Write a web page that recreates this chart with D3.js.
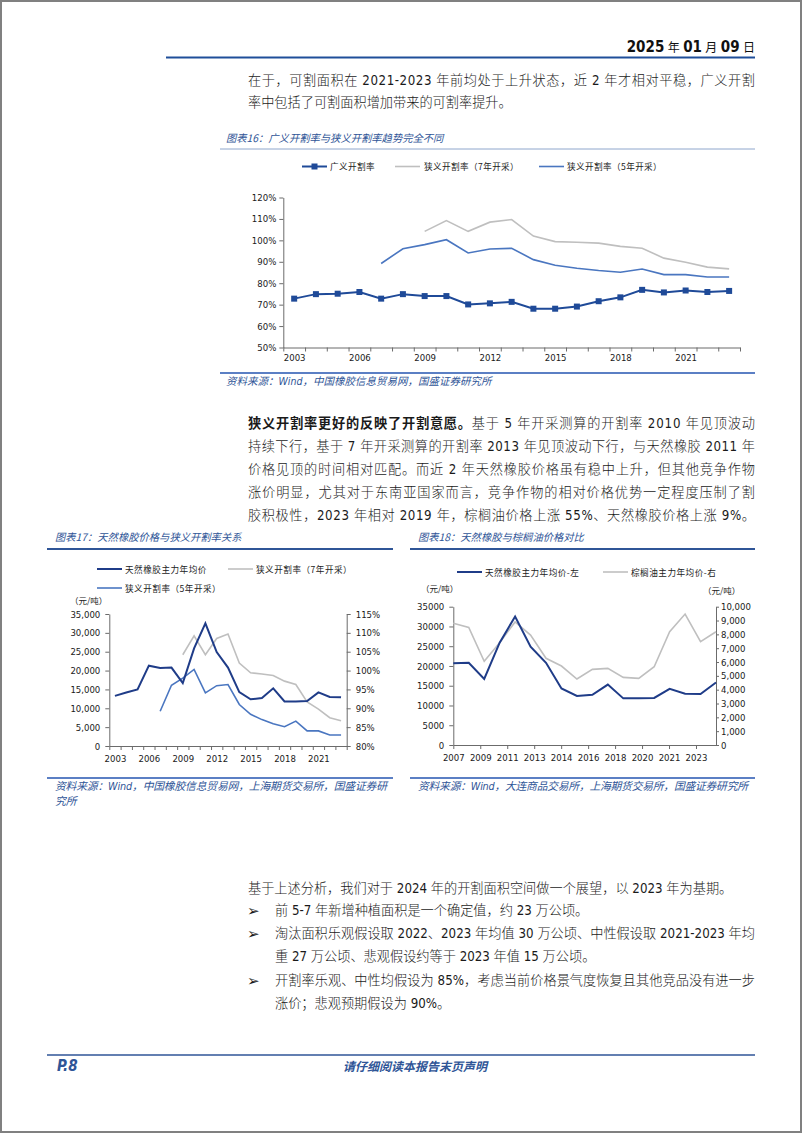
<!DOCTYPE html>
<html><head><meta charset="utf-8">
<script src="https://cdn.jsdelivr.net/npm/d3@7"></script>
<style>body{margin:0;background:#fff}svg{display:block}</style>
</head><body>
<svg id="page" width="802" height="1133"></svg>
<script>
// ---------------- DATA ----------------
const years = [2003,2004,2005,2006,2007,2008,2009,2010,2011,2012,2013,2014,2015,2016,2017,2018,2019,2020,2021,2022,2023];
const broadRate = [72.8,74.9,75.1,75.9,72.8,74.9,74.0,74.0,70.1,70.6,71.3,68.1,68.1,69.1,71.6,73.4,76.9,75.7,76.6,75.9,76.4];
const narrow7Rate = [null,null,null,null,null,null,104.2,109.2,104.2,108.5,109.7,102.0,99.4,99.1,98.7,97.2,96.3,91.7,89.8,87.5,86.7];
const narrow5Rate = [null,null,null,null,89.2,96.1,98.0,100.3,94.1,96.0,96.3,91.0,88.4,87.0,85.9,85.1,86.6,84.0,84.0,82.9,82.9];
const yearLabels = [2003,2006,2009,2012,2015,2018,2021];
const rateTicks16 = [50,60,70,80,90,100,110,120];

const rubberYears = [2003,2004,2005,2006,2007,2008,2009,2010,2011,2012,2013,2014,2015,2016,2017,2018,2019,2020,2021,2022,2023,2024];
const rubberPrice = [13300,14200,15000,21300,20700,20800,16700,25900,32500,24900,20800,14300,12400,12700,15300,11800,11800,11900,14200,13000,12900,15800];
const priceTicks17 = [0,5000,10000,15000,20000,25000,30000,35000];
const rateTicks17 = [80,85,90,95,100,105,110,115];

const palmYears = [2007,2008,2009,2010,2011,2012,2013,2014,2015,2016,2017,2018,2019,2020,2021,2022,2023,2024];
const palmPrice = [8800,8500,6050,7400,8900,7950,6270,5710,4770,5470,5540,4890,4820,5660,8190,9470,7470,8190];
const priceTicks18 = [0,5000,10000,15000,20000,25000,30000,35000];
const palmTicks18 = [0,1000,2000,3000,4000,5000,6000,7000,8000,9000,10000];
const dateTickPos18 = [2007,2008.745,2010.49,2012.235,2013.98,2015.725,2017.47,2019.215,2020.96,2022.705];
const dateTickLabels18 = ['2007','2009','2011','2013','2014','2016','2018','2020','2021','2023'];

const legend16 = ['广义开割率','狭义开割率（7年开采）','狭义开割率（5年开采）'];
const legend17 = ['天然橡胶主力年均价','狭义开割率（7年开采）','狭义开割率（5年开采）'];
const legend18 = ['天然橡胶主力年均价-左','棕榈油主力年均价-右'];

// ---------------- STYLE ----------------
const F_BODY = "'DejaVu Sans Condensed','DejaVu Sans','Noto Sans CJK SC',sans-serif";
const F_CJK = "'Noto Sans CJK SC','DejaVu Sans',sans-serif";
const F_NUM = "'DejaVu Sans Condensed','DejaVu Sans',sans-serif";
const BLUE_T = '#2F5597';
const C_NAVY = '#1F3C88';
const C_BROAD = '#1F4A98';
const C_N5 = '#4A76C0';
const C_GRAY = '#BFBFBF';

const svg = d3.select('#page');
svg.append('rect').attr('x',1).attr('y',1).attr('width',800).attr('height',1131)
  .attr('fill','#fff').attr('stroke','#808080').attr('stroke-width',2);

function hline(x1,x2,y,color,w){
  svg.append('line').attr('x1',x1).attr('x2',x2).attr('y1',y).attr('y2',y)
    .attr('stroke',color).attr('stroke-width',w);
}
function textLine(x,y,segs,opts={}){
  const t = svg.append('text').attr('x',x).attr('y',y)
    .attr('font-family',opts.family||F_BODY).attr('font-size',opts.size||13.2)
    .attr('fill',opts.fill||'#1a1a1a');
  if(opts.anchor) t.attr('text-anchor',opts.anchor);
  if(opts.italic) t.attr('font-style','italic');
  t.attr('font-weight',opts.weight||(opts.family?'normal':300));
  if(opts.ls) t.attr('letter-spacing',opts.ls);
  if(opts.len){ t.attr('textLength',opts.len).attr('lengthAdjust','spacing'); }
  (typeof segs==='string'?[[segs,false]]:segs).forEach(s=>{
    const ts = t.append('tspan').text(s[0]);
    if(s[1]) ts.attr('font-weight','bold');
    if(s[2]) ts.attr('font-size',s[2]);
  });
  return t;
}
function styleAxis(g,fs){
  g.selectAll('.domain').attr('stroke','#6b6b6b').attr('stroke-width',1);
  g.selectAll('.tick line').attr('stroke','#6b6b6b');
  g.selectAll('text').attr('font-family',F_NUM).attr('font-size',fs).attr('fill','#1a1a1a');
}

// ---------------- HEADER ----------------
textLine(755,52,[['2025',true,15],[' 年 ',false,12],['01',true,15],[' 月 ',false,12],['09',true,15],[' 日',false,12]],{anchor:'end',fill:'#111',weight:'normal'});
hline(166,755,57.5,'#1F4E99',2);

// ---------------- PARAGRAPH 1 ----------------
textLine(248,85,'在于，可割面积在 2021-2023 年前均处于上升状态，近 2 年才相对平稳，广义开割',{len:507});
textLine(248,107,'率中包括了可割面积增加带来的可割率提升。');

// ---------------- CHART 16 ----------------
textLine(226,142,'图表16：广义开割率与狭义开割率趋势完全不同',{family:F_CJK,size:10.3,italic:true,fill:BLUE_T});
hline(220,755,149,'#8EA6CC',1);

const x16 = d3.scaleLinear().domain([2002.5,2023.5]).range([283.3,740]);
const y16 = d3.scaleLinear().domain([50,120]).range([347.5,197.5]);
styleAxis(svg.append('g').attr('transform','translate(283.3,0)')
  .call(d3.axisLeft(y16).tickValues(rateTicks16).tickFormat(d=>d+'%').tickSize(4).tickSizeOuter(0).tickPadding(3)),9.5);
styleAxis(svg.append('g').attr('transform','translate(0,347.5)')
  .call(d3.axisBottom(x16).tickValues(d3.range(2002.5,2024,1)).tickFormat('').tickSize(4).tickSizeOuter(0)),9.5);
const xl16 = svg.append('g').attr('transform','translate(0,347.5)')
  .call(d3.axisBottom(x16).tickValues(yearLabels).tickFormat(d3.format('d')).tickSize(0).tickPadding(7));
xl16.select('.domain').remove(); styleAxis(xl16,9.5);

const line16 = d3.line().defined(d=>d[1]!=null).x(d=>x16(d[0])).y(d=>y16(d[1]));
const zip = (xs,vs)=>xs.map((x,i)=>[x,vs[i]]);
svg.append('path').datum(zip(years,narrow7Rate)).attr('d',line16).attr('fill','none').attr('stroke',C_GRAY).attr('stroke-width',1.6);
svg.append('path').datum(zip(years,narrow5Rate)).attr('d',line16).attr('fill','none').attr('stroke',C_N5).attr('stroke-width',1.6);
svg.append('path').datum(zip(years,broadRate)).attr('d',line16).attr('fill','none').attr('stroke',C_BROAD).attr('stroke-width',2);
svg.append('g').selectAll('rect').data(zip(years,broadRate)).join('rect')
  .attr('x',d=>x16(d[0])-3).attr('y',d=>y16(d[1])-3).attr('width',6).attr('height',6).attr('fill',C_BROAD);

// legend 16
[[302,327,330,C_BROAD,2],[395,420,424,C_GRAY,1.6],[539,564,567,C_N5,1.6]].forEach((p,i)=>{
  hline(p[0],p[1],166.5,p[3],p[4]);
  if(i===0) svg.append('rect').attr('x',(p[0]+p[1])/2-3).attr('y',163.5).attr('width',6).attr('height',6).attr('fill',C_BROAD);
  textLine(p[2],170,legend16[i],{family:F_CJK,size:8.6,ls:0.4,fill:'#222'});
});

hline(220,755,373,'#5B7FC4',1.8);
textLine(226,385,'资料来源：Wind，中国橡胶信息贸易网，国盛证券研究所',{size:10.5,italic:true,fill:BLUE_T,weight:'normal'});

// ---------------- PARAGRAPH 2 ----------------
textLine(248,428,[['狭义开割率更好的反映了开割意愿。',true],['基于 5 年开采测算的开割率 2010 年见顶波动',false]],{len:507});
textLine(248,451,'持续下行，基于 7 年开采测算的开割率 2013 年见顶波动下行，与天然橡胶 2011 年',{len:507});
textLine(248,474,'价格见顶的时间相对匹配。而近 2 年天然橡胶价格虽有稳中上升，但其他竞争作物',{len:507});
textLine(248,497,'涨价明显，尤其对于东南亚国家而言，竞争作物的相对价格优势一定程度压制了割',{len:507});
textLine(248,520,'胶积极性，2023 年相对 2019 年，棕榈油价格上涨 55%、天然橡胶价格上涨 9%。',{len:507});

// ---------------- CHART 17 ----------------
textLine(55,541,'图表17：天然橡胶价格与狭义开割率关系',{family:F_CJK,size:10.3,italic:true,fill:BLUE_T});
hline(47,393,549,BLUE_T,2);

[[97,122,125,569,C_NAVY,2],[228,253,256,569,C_GRAY,1.6],[97,122,125,588,C_N5,1.6]].forEach((p,i)=>{
  hline(p[0],p[1],p[3],p[4],p[5]);
  textLine(p[2],p[3]+3.5,legend17[i],{family:F_CJK,size:8.6,ls:0.5,fill:'#222'});
});
textLine(70,604,'（元/吨）',{family:F_CJK,size:8.5,fill:'#222'});

const x17 = d3.scaleLinear().domain([2002.5,2023.5]).range([109.3,346.7]);
const yL17 = d3.scaleLinear().domain([0,35000]).range([746,614]);
const yR17 = d3.scaleLinear().domain([80,115]).range([746,614]);
styleAxis(svg.append('g').attr('transform','translate(109.3,0)')
  .call(d3.axisLeft(yL17).tickValues(priceTicks17).tickFormat(d3.format(',')).tickSize(4).tickSizeOuter(0).tickPadding(5)),9.5);
styleAxis(svg.append('g').attr('transform','translate(346.7,0)')
  .call(d3.axisRight(yR17).tickValues(rateTicks17).tickFormat(d=>d+'%').tickSize(4).tickSizeOuter(0).tickPadding(5)),9.5);
styleAxis(svg.append('g').attr('transform','translate(0,746)')
  .call(d3.axisBottom(x17).tickValues(d3.range(2002.5,2024,1)).tickFormat('').tickSize(4).tickSizeOuter(0)),9.5);
const xl17 = svg.append('g').attr('transform','translate(0,746)')
  .call(d3.axisBottom(x17).tickValues(yearLabels).tickFormat(d3.format('d')).tickSize(0).tickPadding(9));
xl17.select('.domain').remove(); styleAxis(xl17,9.5);

const lineR17 = d3.line().defined(d=>d[1]!=null).x(d=>x17(d[0])).y(d=>yR17(d[1]));
const lineL17 = d3.line().x(d=>x17(d[0])).y(d=>yL17(d[1]));
svg.append('path').datum(zip(years,narrow7Rate)).attr('d',lineR17).attr('fill','none').attr('stroke',C_GRAY).attr('stroke-width',1.6);
svg.append('path').datum(zip(years,narrow5Rate)).attr('d',lineR17).attr('fill','none').attr('stroke',C_N5).attr('stroke-width',1.6);
svg.append('path').datum(zip(rubberYears,rubberPrice).filter(d=>d[0]<=2023)).attr('d',lineL17).attr('fill','none').attr('stroke',C_NAVY).attr('stroke-width',2);

hline(47,393,778,'#5B7FC4',2);
textLine(55,790,'资料来源：Wind，中国橡胶信息贸易网，上海期货交易所，国盛证券研',{size:10.8,italic:true,fill:BLUE_T,len:332,weight:'normal'});
textLine(55,805,'究所',{size:10.8,italic:true,fill:BLUE_T,weight:'normal'});

// ---------------- CHART 18 ----------------
textLine(418,541,'图表18：天然橡胶与棕榈油价格对比',{family:F_CJK,size:10.3,italic:true,fill:BLUE_T});
hline(410,755,549,BLUE_T,2);

[[457,482,485,C_NAVY,2],[603,628,631,C_GRAY,1.6]].forEach((p,i)=>{
  hline(p[0],p[1],572,p[3],p[4]);
  textLine(p[2],575.5,legend18[i],{family:F_CJK,size:8.6,ls:0.5,fill:'#222'});
});
textLine(421,592,'（元/吨）',{family:F_CJK,size:8.5,fill:'#222'});
textLine(703,594,'（元/吨）',{family:F_CJK,size:8.5,fill:'#222'});

const x18 = d3.scaleLinear().domain([2007,2024]).range([453.3,716]);
const yL18 = d3.scaleLinear().domain([0,35000]).range([745,606.7]);
const yR18 = d3.scaleLinear().domain([0,10000]).range([745,606.7]);
styleAxis(svg.append('g').attr('transform','translate(453.3,0)')
  .call(d3.axisLeft(yL18).tickValues(priceTicks18).tickFormat(d3.format('d')).tickSize(4).tickSizeOuter(0).tickPadding(5)),9.5);
styleAxis(svg.append('g').attr('transform','translate(716,0)')
  .call(d3.axisRight(yR18).tickValues(palmTicks18).tickFormat(d3.format(',')).tickSize(3).tickSizeOuter(0).tickPadding(2)),9.5);
styleAxis(svg.append('g').attr('transform','translate(0,745)')
  .call(d3.axisBottom(x18).tickValues(dateTickPos18).tickFormat((d,i)=>dateTickLabels18[i]).tickSize(4).tickSizeOuter(0).tickPadding(5)),9.5);

const lineL18 = d3.line().x(d=>x18(d[0])).y(d=>yL18(d[1]));
const lineR18 = d3.line().x(d=>x18(d[0])).y(d=>yR18(d[1]));
svg.append('path').datum(zip(palmYears,palmPrice)).attr('d',lineR18).attr('fill','none').attr('stroke',C_GRAY).attr('stroke-width',1.6);
svg.append('path').datum(zip(rubberYears,rubberPrice).filter(d=>d[0]>=2007)).attr('d',lineL18).attr('fill','none').attr('stroke',C_NAVY).attr('stroke-width',2);

hline(410,755,778,'#5B7FC4',2);
textLine(418,790,'资料来源：Wind，大连商品交易所，上海期货交易所，国盛证券研究所',{size:10.8,italic:true,fill:BLUE_T,len:330,weight:'normal'});

// ---------------- PARAGRAPH 3 ----------------
textLine(248,893,'基于上述分析，我们对于 2024 年的开割面积空间做一个展望，以 2023 年为基期。');
const bullets = [
  [915,'前 5-7 年新增种植面积是一个确定值，约 23 万公顷。',true,null],
  [938,'淘汰面积乐观假设取 2022、2023 年均值 30 万公顷、中性假设取 2021-2023 年均',true,480],
  [961,'重 27 万公顷、悲观假设约等于 2023 年值 15 万公顷。',false,null],
  [985,'开割率乐观、中性均假设为 85%，考虑当前价格景气度恢复且其他竞品没有进一步',true,480],
  [1008,'涨价；悲观预期假设为 90%。',false,null]
];
bullets.forEach(b=>{
  if(b[2]) textLine(247,b[0]+1,'➢',{family:"'DejaVu Sans',sans-serif",size:15,weight:'normal'});
  textLine(275,b[0],b[1],b[3]?{len:b[3]}:{});
});

// ---------------- FOOTER ----------------
hline(47,755,1055,'#2F5597',1.5);
textLine(57,1071,'P.8',{family:F_NUM,size:15,italic:true,weight:'bold',fill:BLUE_T});
textLine(415,1071,'请仔细阅读本报告末页声明',{family:F_CJK,size:12,italic:true,weight:'bold',fill:BLUE_T,anchor:'middle'});
</script>
</body></html>
